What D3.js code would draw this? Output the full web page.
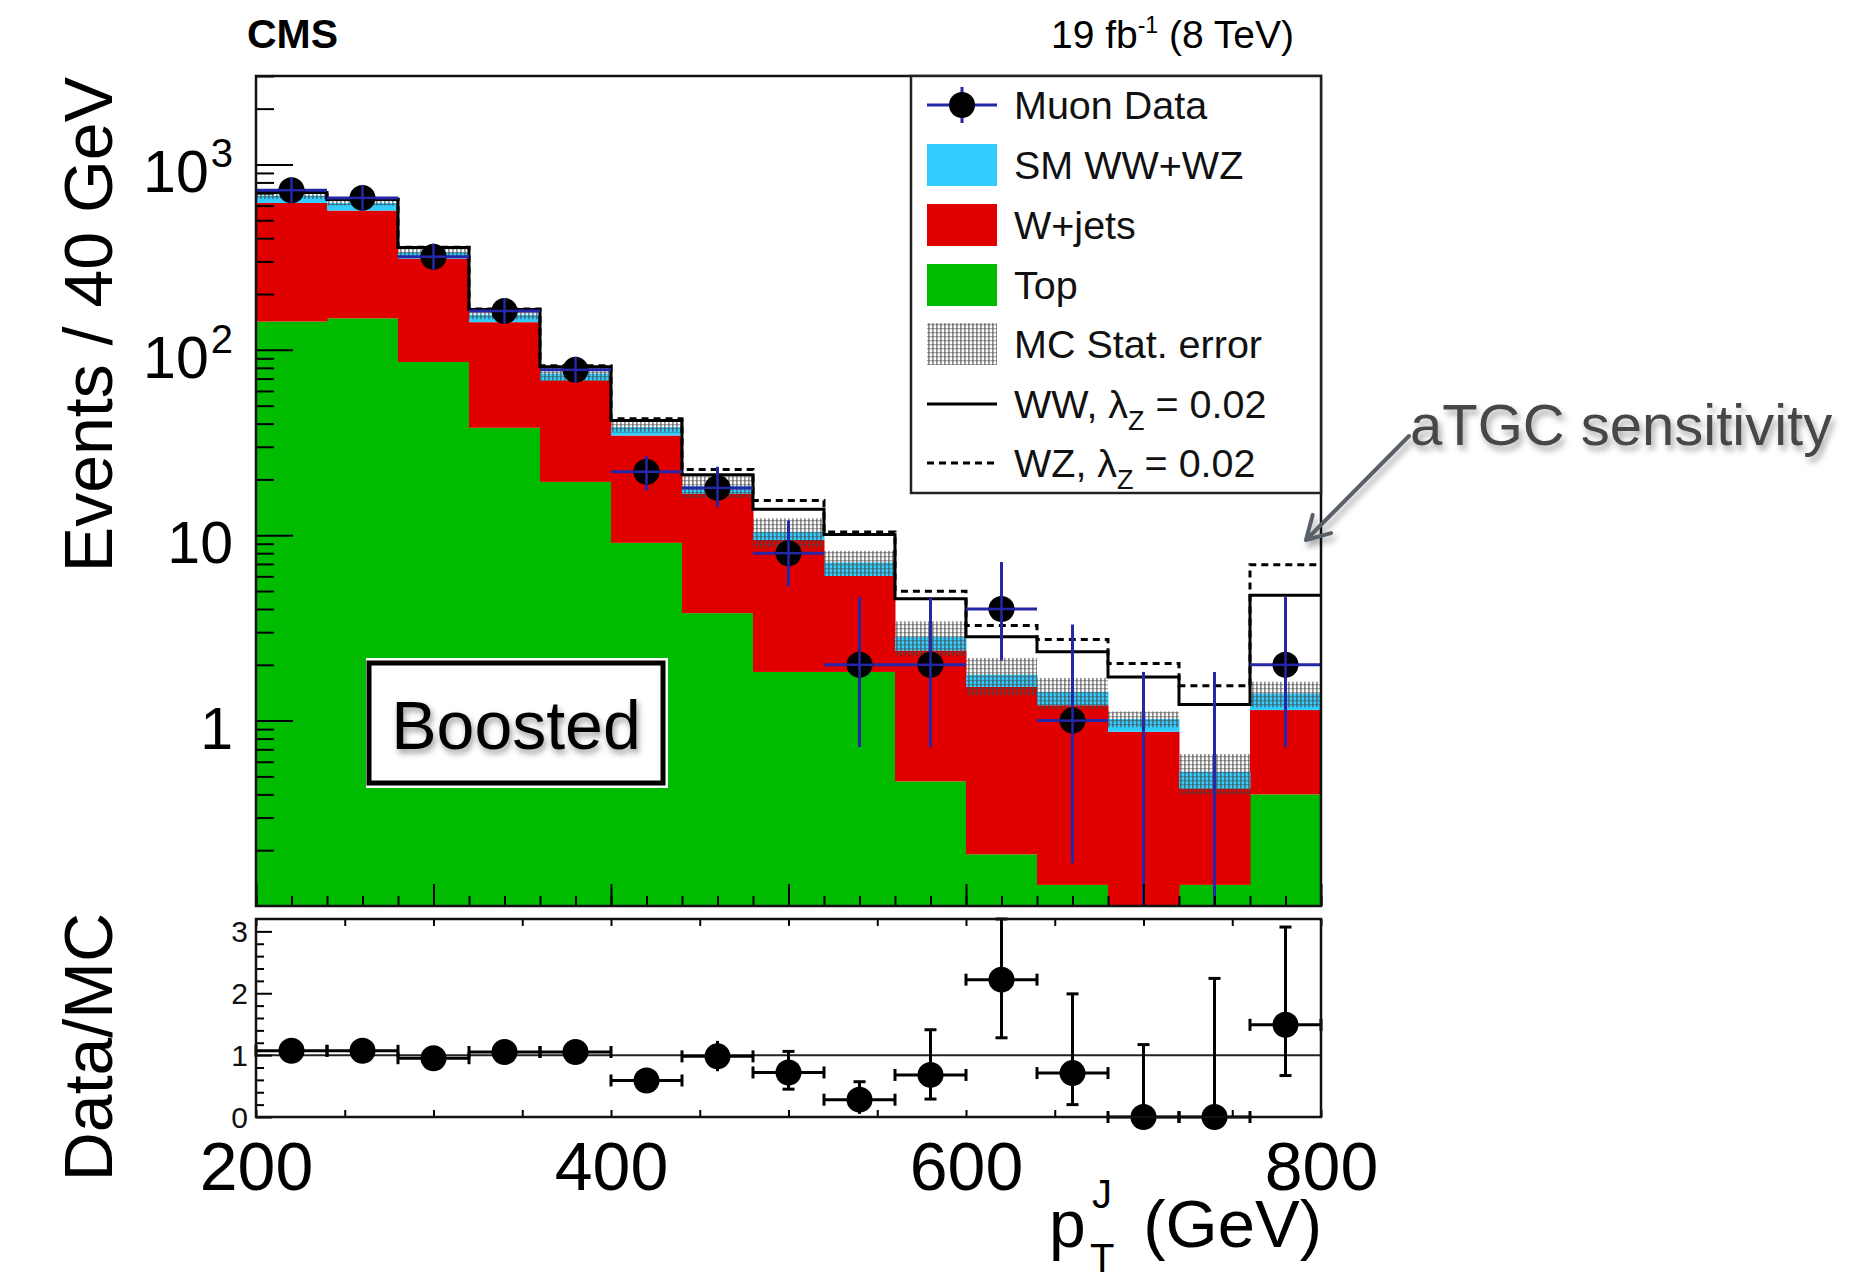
<!DOCTYPE html>
<html>
<head>
<meta charset="utf-8">
<script src="https://cdn.jsdelivr.net/npm/d3@7"></script>
<style>
  html, body { margin: 0; padding: 0; background: #fff; }
  svg { display: block; font-family: "Liberation Sans", Arial, Helvetica, sans-serif; }
</style>
</head>
<body>
<svg id="chart" width="1870" height="1283"></svg>
<script>
// ---- binning: jet pT, 40 GeV bins ----
const binEdges = [200, 240, 280, 320, 360, 400, 440, 480, 520, 560, 600, 640, 680, 720, 760, 800];

// ---- stacked background expectations (events / bin) ----
const topQuark   = [142, 148, 86, 38, 19.4, 9.1, 3.8, 1.83, 1.83, 0.47, 0.19, 0.13, 0, 0.13, 0.40];
const wPlusJets  = [478, 416, 224, 103, 49, 25.4, 12.9, 7.6, 4.2, 1.92, 1.33, 1.08, 0.87, 0.30, 0.74];
const smDiboson  = [59, 56, 26, 13.5, 6.0, 3.8, 1.7, 1.0, 1.1, 0.44, 0.25, 0.22, 0.15, 0.10, 0.26];
const mcStatErr  = [28, 19, 17, 8.5, 6.4, 2.5, 2.4, 1.9, 1.1, 0.6, 0.41, 0.27, 0.1, 0.13, 0.22];

// ---- anomalous coupling predictions (total yield, lambda_Z = 0.02) ----
const wwLambda   = [705, 648, 356, 165, 81, 41.6, 21.2, 13.8, 10.1, 4.55, 2.83, 2.35, 1.72, 1.22, 4.74];
const wzLambda   = [708, 652, 358, 166, 82, 42.5, 22.6, 15.4, 10.4, 4.98, 3.26, 2.74, 2.03, 1.54, 6.93];

// ---- muon data with Poisson interval bounds ----
const muonData   = [726, 660, 318, 162, 78, 22, 18, 8, 2, 2, 4, 1, 0, 0, 2];
const dataLow    = [699, 634, 300, 149, 69, 17.4, 14.2, 5.3, 0.72, 0.72, 2.11, 0.17, 0, 0, 0.72];
const dataHigh   = [753, 686, 336, 175, 87, 26.8, 23.4, 12.0, 4.64, 4.64, 7.17, 3.3, 1.83, 1.83, 4.64];

// ---- data / MC ratio with interval bounds ----
const ratio      = [1.07, 1.07, 0.95, 1.05, 1.05, 0.59, 0.98, 0.72, 0.28, 0.68, 2.22, 0.71, 0, 0, 1.49];
const ratioLow   = [1.03, 1.03, 0.90, 0.97, 0.93, 0.46, 0.74, 0.45, 0.05, 0.29, 1.28, 0.20, 0, 0, 0.67];
const ratioHigh  = [1.11, 1.11, 1.00, 1.13, 1.17, 0.72, 1.23, 1.06, 0.57, 1.41, 3.20, 1.99, 1.17, 2.24, 3.07];

// ---- tick labels ----
const xLabelTicks   = [200, 400, 600, 800];
const yDecadeTicks  = [1, 10, 100, 1000];
const yDecadeLabels = [["1", null], ["10", null], ["10", "2"], ["10", "3"]];
const ratioLabelTicks = [0, 1, 2, 3];

// ---- colours ----
const colTop = "#00bb00", colWjets = "#e00000", colVV = "#33ccff", colData = "#2626a8";

// ---- layout ----
const main = { left: 256, right: 1321, top: 76, bottom: 906 };
const rpad = { top: 919, bottom: 1117 };

const svg = d3.select("#chart");
const defs = svg.append("defs");

const pat = defs.append("pattern").attr("id", "mcstat")
  .attr("patternUnits", "userSpaceOnUse").attr("width", 4).attr("height", 4);
pat.append("rect").attr("width", 1.7).attr("height", 4).attr("fill", "#444").attr("opacity", 0.6);
pat.append("rect").attr("width", 4).attr("height", 1.3).attr("fill", "#444").attr("opacity", 0.45);

defs.append("clipPath").attr("id", "mainClip").append("rect")
  .attr("x", main.left).attr("y", main.top)
  .attr("width", main.right - main.left).attr("height", main.bottom - main.top);

const shadow = defs.append("filter").attr("id", "softShadow")
  .attr("x", "-20%").attr("y", "-30%").attr("width", "150%").attr("height", "180%");
shadow.append("feDropShadow").attr("dx", 3).attr("dy", 5).attr("stdDeviation", 3)
  .attr("flood-color", "#000").attr("flood-opacity", 0.35);

const boxShadow = defs.append("filter").attr("id", "boxShadow")
  .attr("x", "-20%").attr("y", "-30%").attr("width", "150%").attr("height", "180%");
boxShadow.append("feDropShadow").attr("dx", 2).attr("dy", 4).attr("stdDeviation", 3)
  .attr("flood-color", "#000").attr("flood-opacity", 0.4);

// ---- scales ----
const x = d3.scaleLinear().domain([200, 800]).range([main.left, main.right]);
const y = d3.scaleLog().domain([0.1, 3000]).range([main.bottom, main.top]).clamp(true);
const yr = d3.scaleLinear().domain([0, 3.2]).range([rpad.bottom, rpad.top]).clamp(true);

const bins = d3.range(binEdges.length - 1).map(i => {
  const t = topQuark[i], w = t + wPlusJets[i], tot = w + smDiboson[i];
  return { i, x0: binEdges[i], x1: binEdges[i + 1], xc: (binEdges[i] + binEdges[i + 1]) / 2,
           top: t, wj: w, tot: tot };
});

// ---- main pad: stacked histogram ----
const gMain = svg.append("g").attr("clip-path", "url(#mainClip)");
const yFloor = y.domain()[0];

gMain.selectAll("rect.top").data(bins.filter(b => b.top > 0)).join("rect")
  .attr("x", b => x(b.x0)).attr("width", b => x(b.x1) - x(b.x0) + 0.5)
  .attr("y", b => y(b.top)).attr("height", b => y(yFloor) - y(b.top))
  .attr("fill", colTop);

gMain.selectAll("rect.wj").data(bins).join("rect")
  .attr("x", b => x(b.x0)).attr("width", b => x(b.x1) - x(b.x0) + 0.5)
  .attr("y", b => y(b.wj)).attr("height", b => y(Math.max(b.top, yFloor)) - y(b.wj))
  .attr("fill", colWjets);

gMain.selectAll("rect.vv").data(bins).join("rect")
  .attr("x", b => x(b.x0)).attr("width", b => x(b.x1) - x(b.x0) + 0.5)
  .attr("y", b => y(b.tot)).attr("height", b => y(b.wj) - y(b.tot))
  .attr("fill", colVV);

// MC statistical uncertainty band
gMain.selectAll("rect.stat").data(bins).join("rect")
  .attr("x", b => x(b.x0)).attr("width", b => x(b.x1) - x(b.x0))
  .attr("y", b => y(b.tot + mcStatErr[b.i]))
  .attr("height", b => y(Math.max(b.tot - mcStatErr[b.i], yFloor)) - y(b.tot + mcStatErr[b.i]))
  .attr("fill", "url(#mcstat)");

// aTGC step lines
const stepPts = vals => binEdges.map((e, k) => [e, vals[Math.min(k, vals.length - 1)]]);
const step = d3.line().x(d => x(d[0])).y(d => y(d[1])).curve(d3.curveStepAfter);
gMain.append("path").attr("d", step(stepPts(wwLambda)))
  .attr("fill", "none").attr("stroke", "#000").attr("stroke-width", 3);
gMain.append("path").attr("d", step(stepPts(wzLambda)))
  .attr("fill", "none").attr("stroke", "#000").attr("stroke-width", 3)
  .attr("stroke-dasharray", "7,5");

// data points
const dataBins = bins.map(b => Object.assign({}, b, { n: muonData[b.i], lo: dataLow[b.i], hi: dataHigh[b.i] }));
gMain.selectAll("line.dx").data(dataBins.filter(d => d.n > 0)).join("line")
  .attr("x1", d => x(d.x0)).attr("x2", d => x(d.x1))
  .attr("y1", d => y(d.n)).attr("y2", d => y(d.n))
  .attr("stroke", colData).attr("stroke-width", 3);
gMain.selectAll("line.dy").data(dataBins).join("line")
  .attr("x1", d => x(d.xc)).attr("x2", d => x(d.xc))
  .attr("y1", d => y(Math.max(d.lo, yFloor))).attr("y2", d => y(d.hi))
  .attr("stroke", colData).attr("stroke-width", 3);
gMain.selectAll("circle.dm").data(dataBins.filter(d => d.n > 0)).join("circle")
  .attr("cx", d => x(d.xc)).attr("cy", d => y(d.n)).attr("r", 13).attr("fill", "#000");
gMain.selectAll("line.dy2").data(dataBins.filter(d => d.n > 0)).join("line")
  .attr("x1", d => x(d.xc)).attr("x2", d => x(d.xc))
  .attr("y1", d => y(d.n) - 13).attr("y2", d => y(d.n) + 13)
  .attr("stroke", colData).attr("stroke-width", 2.5);
gMain.selectAll("line.dx2").data(dataBins.filter(d => d.n > 0)).join("line")
  .attr("x1", d => x(d.xc) - 13).attr("x2", d => x(d.xc) + 13)
  .attr("y1", d => y(d.n)).attr("y2", d => y(d.n))
  .attr("stroke", colData).attr("stroke-width", 2.5);

// ---- main pad axes (ticks point inward) ----
const tickStyle = g => {
  g.select(".domain").remove();
  g.selectAll(".tick line").attr("stroke", "#000").attr("stroke-width", 2);
  g.selectAll(".tick text").remove();
};
svg.append("g").attr("transform", `translate(0,${main.bottom})`)
  .call(d3.axisBottom(x).tickValues(d3.range(200, 801, 20)).tickSize(-10)).call(tickStyle);
svg.append("g").attr("transform", `translate(0,${main.bottom})`)
  .call(d3.axisBottom(x).tickValues(d3.range(200, 801, 100)).tickSize(-22)).call(tickStyle);

const allYTicks = y.ticks().filter(v => v > yFloor * 1.01);
const isDecade = v => Math.abs(Math.log10(v) - Math.round(Math.log10(v))) < 1e-6;
svg.append("g").attr("transform", `translate(${main.left},0)`)
  .call(d3.axisLeft(y).tickValues(allYTicks.filter(v => !isDecade(v))).tickSize(-18)).call(tickStyle);
svg.append("g").attr("transform", `translate(${main.left},0)`)
  .call(d3.axisLeft(y).tickValues(allYTicks.filter(isDecade)).tickSize(-37)).call(tickStyle);

// y labels with exponents
const yLab = svg.append("g").attr("font-size", 59).attr("fill", "#000").attr("text-anchor", "end");
yDecadeTicks.forEach((v, k) => {
  const t = yLab.append("text").attr("x", main.left - 23).attr("y", y(v) + 28);
  t.append("tspan").text(yDecadeLabels[k][0]);
  if (yDecadeLabels[k][1]) {
    t.append("tspan").attr("font-size", 40).attr("dy", -25).attr("dx", 2).text(yDecadeLabels[k][1]);
  }
});

// main frame
svg.append("rect").attr("x", main.left).attr("y", main.top)
  .attr("width", main.right - main.left).attr("height", main.bottom - main.top)
  .attr("fill", "none").attr("stroke", "#111").attr("stroke-width", 2.5);

// ---- legend ----
const leg = { x0: 911, y0: 76, x1: 1321, y1: 493 };
svg.append("rect").attr("x", leg.x0).attr("y", leg.y0)
  .attr("width", leg.x1 - leg.x0).attr("height", leg.y1 - leg.y0)
  .attr("fill", "#fff").attr("stroke", "#222").attr("stroke-width", 2.5);

const legRows = [105, 165, 225, 285, 344, 404, 463];
const sw = { x0: 927, x1: 997, h: 42 };
const gl = svg.append("g");
// Muon Data
gl.append("line").attr("x1", sw.x0).attr("x2", sw.x1).attr("y1", legRows[0]).attr("y2", legRows[0])
  .attr("stroke", colData).attr("stroke-width", 3);
gl.append("line").attr("x1", (sw.x0 + sw.x1) / 2).attr("x2", (sw.x0 + sw.x1) / 2)
  .attr("y1", legRows[0] - 18).attr("y2", legRows[0] + 18).attr("stroke", colData).attr("stroke-width", 3);
gl.append("circle").attr("cx", (sw.x0 + sw.x1) / 2).attr("cy", legRows[0]).attr("r", 13).attr("fill", "#000");
// filled boxes
[[colVV, 1], [colWjets, 2], [colTop, 3]].forEach(([c, r]) => {
  gl.append("rect").attr("x", sw.x0).attr("y", legRows[r] - sw.h / 2)
    .attr("width", sw.x1 - sw.x0).attr("height", sw.h).attr("fill", c);
});
gl.append("rect").attr("x", sw.x0).attr("y", legRows[4] - sw.h / 2)
  .attr("width", sw.x1 - sw.x0).attr("height", sw.h).attr("fill", "url(#mcstat)");
gl.append("line").attr("x1", sw.x0).attr("x2", sw.x1).attr("y1", legRows[5]).attr("y2", legRows[5])
  .attr("stroke", "#000").attr("stroke-width", 3);
gl.append("line").attr("x1", sw.x0).attr("x2", sw.x1).attr("y1", legRows[6]).attr("y2", legRows[6])
  .attr("stroke", "#000").attr("stroke-width", 3).attr("stroke-dasharray", "7,5");

const legText = svg.append("g").attr("font-size", 39.5).attr("fill", "#111");
["Muon Data", "SM WW+WZ", "W+jets", "Top", "MC Stat. error"].forEach((s, k) => {
  legText.append("text").attr("x", 1014).attr("y", legRows[k] + 14).text(s);
});
[["WW, λ", 5], ["WZ, λ", 6]].forEach(([s, r]) => {
  const t = legText.append("text").attr("x", 1014).attr("y", legRows[r] + 14);
  t.append("tspan").text(s);
  t.append("tspan").attr("font-size", 27).attr("dy", 12).text("Z");
  t.append("tspan").attr("dy", -12).text(" = 0.02");
});

// ---- ratio pad ----
svg.append("line").attr("x1", main.left).attr("x2", main.right)
  .attr("y1", yr(1)).attr("y2", yr(1)).attr("stroke", "#222").attr("stroke-width", 2);

const rBins = bins.map(b => Object.assign({}, b, { r: ratio[b.i], lo: ratioLow[b.i], hi: ratioHigh[b.i] }));
const gR = svg.append("g").attr("stroke", "#000").attr("stroke-width", 3);
gR.selectAll("line.rx").data(rBins).join("line")
  .attr("x1", d => x(d.x0)).attr("x2", d => x(d.x1)).attr("y1", d => yr(d.r)).attr("y2", d => yr(d.r));
gR.selectAll("line.rcapx").data(rBins.flatMap(d => [[d.x0, d.r], [d.x1, d.r]])).join("line")
  .attr("x1", d => x(d[0])).attr("x2", d => x(d[0]))
  .attr("y1", d => yr(d[1]) - 6).attr("y2", d => yr(d[1]) + 6);
gR.selectAll("line.ry").data(rBins).join("line")
  .attr("x1", d => x(d.xc)).attr("x2", d => x(d.xc)).attr("y1", d => yr(d.lo)).attr("y2", d => yr(d.hi));
gR.selectAll("line.rcapy").data(rBins.flatMap(d => (d.hi - d.r > 0.25 ? [[d.xc, d.hi]] : [])
    .concat(d.r - d.lo > 0.25 ? [[d.xc, d.lo]] : []))).join("line")
  .attr("x1", d => x(d[0]) - 6).attr("x2", d => x(d[0]) + 6)
  .attr("y1", d => yr(d[1])).attr("y2", d => yr(d[1]));
svg.append("g").selectAll("circle").data(rBins).join("circle")
  .attr("cx", d => x(d.xc)).attr("cy", d => yr(d.r)).attr("r", 13).attr("fill", "#000");

// ratio axes
svg.append("g").attr("transform", `translate(0,${rpad.bottom})`)
  .call(d3.axisBottom(x).tickValues(d3.range(200, 801, 50)).tickSize(-7)).call(tickStyle);
svg.append("g").attr("transform", `translate(0,${rpad.top})`)
  .call(d3.axisTop(x).tickValues(d3.range(200, 801, 50)).tickSize(-7)).call(tickStyle);
svg.append("g").attr("transform", `translate(${main.left},0)`)
  .call(d3.axisLeft(yr).tickValues(d3.range(0.2, 3.2, 0.2).filter(v => Math.abs(v - Math.round(v)) > 1e-6)).tickSize(-8))
  .call(tickStyle);
svg.append("g").attr("transform", `translate(${main.left},0)`)
  .call(d3.axisLeft(yr).tickValues(ratioLabelTicks).tickSize(-16)).call(tickStyle);

svg.append("g").attr("font-size", 30).attr("text-anchor", "end").attr("fill", "#111")
  .selectAll("text").data(ratioLabelTicks).join("text")
  .attr("x", main.left - 8).attr("y", d => yr(d) + 11).text(d => d);

svg.append("rect").attr("x", main.left).attr("y", rpad.top)
  .attr("width", main.right - main.left).attr("height", rpad.bottom - rpad.top)
  .attr("fill", "none").attr("stroke", "#111").attr("stroke-width", 2.5);

// x labels under the ratio pad
const xLab = svg.append("g").attr("transform", `translate(0,${rpad.bottom})`)
  .call(d3.axisBottom(x).tickValues(xLabelTicks).tickSize(0).tickPadding(25).tickFormat(d3.format("d")));
xLab.select(".domain").remove();
xLab.selectAll("text").attr("font-size", 68).attr("fill", "#000")
  .attr("font-family", "'Liberation Sans', Arial, sans-serif");

// ---- axis titles ----
svg.append("text").attr("transform", "translate(112,77) rotate(-90)")
  .attr("text-anchor", "end").attr("font-size", 68).attr("fill", "#000").text("Events / 40 GeV");
svg.append("text").attr("transform", "translate(112,913) rotate(-90)")
  .attr("text-anchor", "end").attr("font-size", 68).attr("fill", "#000").text("Data/MC");

const xt = svg.append("g").attr("fill", "#000");
xt.append("text").attr("x", main.right + 1).attr("y", 1247).attr("text-anchor", "end")
  .attr("font-size", 67).text("(GeV)");
xt.append("text").attr("x", 1049).attr("y", 1247).attr("font-size", 66).text("p");
xt.append("text").attr("x", 1092).attr("y", 1208).attr("font-size", 40).text("J");
xt.append("text").attr("x", 1090).attr("y", 1272).attr("font-size", 40).text("T");

// ---- header ----
svg.append("text").attr("x", 247).attr("y", 48).attr("font-size", 41).attr("font-weight", "bold")
  .attr("fill", "#000").text("CMS");
const lumi = svg.append("text").attr("x", 1294).attr("y", 48).attr("text-anchor", "end")
  .attr("font-size", 39).attr("fill", "#000");
lumi.append("tspan").text("19 fb");
lumi.append("tspan").attr("font-size", 23).attr("dy", -15).text("-1");
lumi.append("tspan").attr("dy", 15).text(" (8 TeV)");

// ---- category box ----
const box = svg.append("g");
box.append("rect").attr("x", 366).attr("y", 658).attr("width", 302).attr("height", 130).attr("fill", "#fff");
box.append("rect").attr("x", 369).attr("y", 663).attr("width", 294).attr("height", 120)
  .attr("fill", "#fff").attr("stroke", "#000").attr("stroke-width", 5);
box.append("text").attr("x", 516).attr("y", 749).attr("text-anchor", "middle")
  .attr("font-size", 68).attr("fill", "#000").attr("filter", "url(#boxShadow)").text("Boosted");

// ---- annotation ----
const ann = svg.append("g").attr("filter", "url(#softShadow)");
ann.append("text").attr("x", 1410).attr("y", 445).attr("font-size", 58).attr("fill", "#474747")
  .text("aTGC sensitivity");
const a0 = [1409, 436], a1 = [1306, 540];
const ang = Math.atan2(a0[1] - a1[1], a0[0] - a1[0]);
const arm = (da) => [a1[0] + 26 * Math.cos(ang + da), a1[1] + 26 * Math.sin(ang + da)];
const pA = arm(0.52), pB = arm(-0.52);
ann.append("path")
  .attr("d", `M${a0[0]},${a0[1]}L${a1[0]},${a1[1]}M${pA[0]},${pA[1]}L${a1[0]},${a1[1]}L${pB[0]},${pB[1]}`)
  .attr("fill", "none").attr("stroke", "#5a606a").attr("stroke-width", 4)
  .attr("stroke-linecap", "round").attr("stroke-linejoin", "round");
</script>
</body>
</html>
